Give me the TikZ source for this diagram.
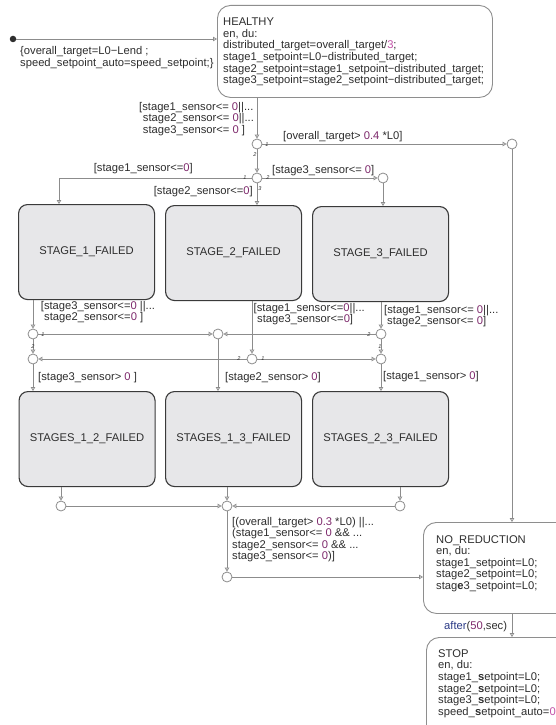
\documentclass[tikz,border=0pt]{standalone}
\usepackage{fontspec}
\setmainfont{Liberation Sans}
\usetikzlibrary{arrows.meta,calc}

\definecolor{ink}{HTML}{2E2E2E}
\definecolor{wire}{HTML}{8C8C8C}
\definecolor{num}{HTML}{7E2A6C}
\definecolor{numlight}{HTML}{C253A8}
\definecolor{kw}{HTML}{2B3A86}
\definecolor{stfill}{HTML}{E7E7E9}
\definecolor{stedge}{HTML}{3A3A3A}
\definecolor{boxedge}{HTML}{8E8E8E}

\newcommand\nm[1]{\textcolor{num}{#1}}
\newcommand\tdots{...}

% rows of text: name prefix, x, first baseline y, row step, list of rows
\newcommand\textrows[5]{%
  \foreach \rowtext [count=\k from 0] in {#5}{%
    \node[lbl, anchor=base west] (#1\k) at (#2, {#3+\k*#4}) {\rowtext};}}

\tikzset{
  wire/.style={draw=wire, line width=0.8pt, -{Triangle[open, length=4pt, width=4.5pt]}},
  junc/.style={circle, draw=wire, line width=0.8pt, fill=white, minimum size=10pt, inner sep=0pt},
  failbox/.style={draw=stedge, line width=1.1pt, fill=stfill, rounded corners=9pt,
    inner sep=0pt, anchor=north west, text=ink, font=\fontsize{11.2}{13}\selectfont},
  statebox/.style={draw=boxedge, line width=0.9pt, fill=white, rounded corners=13pt,
    inner sep=0pt, anchor=north west},
  lbl/.style={text=ink, inner sep=0pt, font=\fontsize{11.2}{13}\selectfont},
  ord/.style={text=ink, inner sep=0pt, font=\fontsize{5.5}{6}\selectfont\itshape},
}

\begin{document}
\begin{tikzpicture}[x=1pt, y=-1pt]
\path[use as bounding box, fill=white] (0,0) rectangle (556,725);
\clip (0,0) rectangle (556,725);

% ---------- states ----------
\node[statebox, minimum width=275pt, minimum height=92pt] (hb) at (217,5) {};
\node[failbox, minimum width=136pt, minimum height=95pt] (s1) at (18,204) {STAGE\_1\_FAILED};
\node[failbox, minimum width=136pt, minimum height=95pt] (s2) at (165,205) {STAGE\_2\_FAILED};
\node[failbox, minimum width=136pt, minimum height=95pt] (s3) at (312,206) {STAGE\_3\_FAILED};
\node[failbox, minimum width=136pt, minimum height=95pt] (s12) at (18.5,391) {STAGES\_1\_2\_FAILED};
\node[failbox, minimum width=136pt, minimum height=95pt] (s13) at (165,391) {STAGES\_1\_3\_FAILED};
\node[failbox, minimum width=136pt, minimum height=95pt] (s23) at (312,391) {STAGES\_2\_3\_FAILED};
\node[statebox, minimum width=170pt, minimum height=91pt] (nr) at (423,522) {};
\node[statebox, minimum width=170pt, minimum height=120pt] (stop) at (426,637) {};

% ---------- junctions ----------
\node[junc] (j1) at (257,144) {};
\node[junc] (j2) at (257,178) {};
\node[junc] (j3) at (383,178) {};
\node[junc] (jr) at (512,144) {};
\node[junc] (j4) at (33,334) {};
\node[junc] (j5) at (33,359) {};
\node[junc] (j6) at (218,334) {};
\node[junc] (j7) at (252,359) {};
\node[junc] (j8) at (381,334) {};
\node[junc] (j9) at (381,359) {};
\node[junc] (k1) at (61,506) {};
\node[junc] (k2) at (227,506) {};
\node[junc] (k3) at (400,506) {};
\node[junc] (k4) at (227,577) {};

% default transition
\node[circle, fill=ink, minimum size=6.5pt, inner sep=0pt] (init) at (13,39) {};
\draw[wire] (init) -- (init -| hb.west);

% ---------- transitions ----------
\coordinate (c1) at (59,178);
\draw[wire] (hb.south -| j1) -- (j1);
\draw[wire] (j1) -- (jr);
\draw[wire] (j1) -- (j2);
\draw[wire] (j2) -- (c1) -- (c1 |- s1.north);
\draw[wire] (j2) -- (j3);
\draw[wire] (j2) -- (j2 |- s2.north);
\draw[wire] (j3) -- (j3 |- s3.north);
\draw[wire] (jr) -- (jr |- nr.north);

\draw[wire] (s1.south -| j4) -- (j4);
\draw[wire] (s2.south -| j7) -- (j7);
\draw[wire] (s3.south -| j8) -- (j8);
\draw[wire] (j4) -- (j6);
\draw[wire] (j4) -- (j5);
\draw[wire] (j8) -- (j6);
\draw[wire] (j8) -- (j9);
\draw[wire] (j7) -- (j5);
\draw[wire] (j7) -- (j9);
\draw[wire] (j5) -- (j5 |- s12.north);
\draw[wire] (j6) -- (j6 |- s13.north);
\draw[wire] (j9) -- (j9 |- s23.north);

\draw[wire] (s12.south -| k1) -- (k1);
\draw[wire] (s13.south -| k2) -- (k2);
\draw[wire] (s23.south -| k3) -- (k3);
\draw[wire] (k1) -- (k2);
\draw[wire] (k3) -- (k2);
\draw[wire] (k2) -- (k4);
\draw[wire] (k4) -- (k4 -| nr.west);
\draw[wire] (jr |- nr.south) -- (jr |- stop.north);

% ---------- state texts ----------
\textrows{ht}{223}{25.5}{11.7}{HEALTHY,{en, du:},
  {distributed\_target=overall\_target/\textcolor{numlight}{3};},
  {stage1\_setpoint=L0−distributed\_target;},
  {stage2\_setpoint=stage1\_setpoint−distributed\_target;},
  {stage3\_setpoint=stage2\_setpoint−distributed\_target;}}
\textrows{nt}{436}{543}{11.6}{NO\_REDUCTION,{en, du:},
  {stage1\_setpoint=L0;},{stage2\_setpoint=L0;},{stag\textbf{e}3\_setpoint=L0;}}
\textrows{st}{438}{657}{11.7}{STOP,{en, du:},
  {stage1\_\textbf{s}etpoint=L0;},{stage2\_\textbf{s}etpoint=L0;},
  {stage3\_\textbf{s}etpoint=L0;},{speed\_\textbf{s}etpoint\_auto=\textcolor{numlight}{0}}}

% ---------- transition labels ----------
\textrows{ia}{20}{55}{11.5}{{\{overall\_target=L0−Lend ;},
  {speed\_setpoint\_auto=speed\_setpoint;\}}}
\node[lbl, anchor=base west] (ca0) at (139,110) {[stage1\_sensor<= \nm{0}||\tdots};
\node[lbl, anchor=base west] (ca1) at (142.7,121.5) {stage2\_sensor<= \nm{0}||\tdots};
\node[lbl, anchor=base west] (ca2) at (142.7,133) {stage3\_sensor<= \nm{0} ]};
\node[lbl, anchor=base west] (cb) at (283,139) {[overall\_target> \nm{0.4} *L0]};
\node[lbl, anchor=base east] (cc) at (193,171.5) {[stage1\_sensor<=\nm{0}]};
\node[lbl, anchor=base west] (cd) at (272,173) {[stage3\_sensor<= \nm{0}]};
\node[lbl, anchor=base east] (ce) at (253,194) {[stage2\_sensor<=\nm{0}]};

\node[lbl, anchor=base west] (cf0) at (40.7,309) {[stage3\_sensor<=\nm{0} ||\tdots};
\node[lbl, anchor=base west] (cf1) at (44,320.5) {stage2\_sensor<=\nm{0} ]};
\node[lbl, anchor=base west] (cg0) at (253.5,311.5) {[stage1\_sensor<=\nm{0}||\tdots};
\node[lbl, anchor=base west] (cg1) at (257,322.5) {stage3\_sensor<=\nm{0}]};
\node[lbl, anchor=base west] (ch0) at (384,313) {[stage1\_sensor<= \nm{0}||\tdots};
\node[lbl, anchor=base west] (ch1) at (387,324) {stage2\_sensor<= \nm{0}]};

\node[lbl, anchor=base west] (ci) at (38,380) {[stage3\_sensor> \nm{0} ]};
\node[lbl, anchor=base west] (cj) at (225,380) {[stage2\_sensor> \nm{0}]};
\node[lbl, anchor=base west] (ck) at (383,379.5) {[stage1\_sensor> \nm{0}]};

\textrows{cl}{232}{525}{11.5}{{[(overall\_target> \nm{0.3} *L0) ||\tdots},
  {(stage1\_sensor<= \nm{0} \&\& \tdots},
  {stage2\_sensor<= \nm{0} \&\& \tdots},
  {stage3\_sensor<= \nm{0})]}}
\node[lbl, anchor=base west] (cm) at (444,629) {\textcolor{kw}{after}(\nm{50},sec)};

% ---------- execution order numbers ----------
\node[ord] (o1) at (267,144.5) {1};
\node[ord] (o2) at (255,155) {2};
\node[ord] (o3) at (245,178) {1};
\node[ord] (o4) at (268,177.5) {2};
\node[ord] (o5) at (260,189) {3};
\node[ord] (o6) at (43,335) {1};
\node[ord] (o7) at (33,347) {2};
\node[ord] (o8) at (239,359) {2};
\node[ord] (o9) at (263,359) {1};
\node[ord] (o10) at (369,335) {2};
\node[ord] (o11) at (380,347) {1};
\end{tikzpicture}
\end{document}
